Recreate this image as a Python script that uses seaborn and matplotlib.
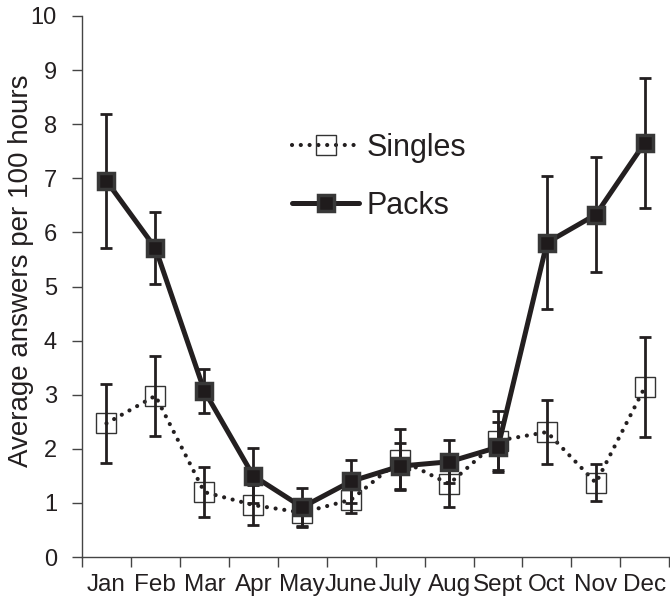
import matplotlib
matplotlib.use("Agg")
import matplotlib.pyplot as plt
import seaborn as sns
import pandas as pd
import numpy as np

months = ["Jan", "Feb", "Mar", "Apr", "May", "June", "July", "Aug", "Sept", "Oct", "Nov", "Dec"]
packs_mean = [6.95, 5.71, 3.07, 1.50, 0.92, 1.40, 1.68, 1.76, 2.03, 5.81, 6.33, 7.66]
packs_err = [1.23, 0.67, 0.40, 0.51, 0.36, 0.40, 0.42, 0.40, 0.46, 1.23, 1.06, 1.20]
singles_mean = [2.47, 2.98, 1.20, 0.96, 0.82, 1.06, 1.80, 1.35, 2.15, 2.31, 1.37, 3.14]
singles_err = [0.73, 0.74, 0.46, 0.37, 0.25, 0.25, 0.56, 0.43, 0.55, 0.59, 0.34, 0.93]
y_ticks = [0, 1, 2, 3, 4, 5, 6, 7, 8, 9, 10]

sns.set_style("ticks")
plt.rcParams['font.family'] = ['Liberation Sans', 'DejaVu Sans']

pos = np.arange(len(months))
df = pd.DataFrame({"pos": pos, "month": months, "Singles": singles_mean, "Packs": packs_mean})

fig = plt.figure(figsize=(6.7, 6.03), dpi=100)
ax = fig.add_axes([82/670, 1-557/603, 1-82/670-0.001, (557-16)/603])

ink = "#231f20"

sns.lineplot(data=df, x="pos", y="Singles", ax=ax, color=ink, linestyle=(0, (0.01, 2.1)),
             linewidth=3.0, dash_capstyle="round", marker="s", markersize=15,
             markerfacecolor="none", markeredgecolor="#333333", markeredgewidth=1.0,
             label="Singles", zorder=2)
ax.errorbar(pos, singles_mean, yerr=singles_err, fmt="none", ecolor=ink, elinewidth=2.0,
            capsize=4.2, capthick=2.0, zorder=3)
ax.errorbar(pos, packs_mean, yerr=packs_err, fmt="none", ecolor=ink, elinewidth=2.0,
            capsize=4.2, capthick=2.0, zorder=3)
sns.lineplot(data=df, x="pos", y="Packs", ax=ax, color=ink, linewidth=3.6,
             marker="s", markersize=11.5, markerfacecolor="#1f1b1c",
             markeredgecolor="#383838", markeredgewidth=2.5, label="Packs", zorder=4)

for l in ax.lines:
    l.set_solid_joinstyle("round")

ax.set_xlim(-0.5, 11.5)
ax.set_ylim(0, 10)
ax.set_yticks(y_ticks)
ax.set_xticks(pos)
ax.set_xticklabels(months)
ax.set_xticks(np.arange(-0.5, 12, 1), minor=True)
ax.tick_params(axis="x", which="major", length=0, pad=12, labelsize=17.5, colors="#231f20")
ax.tick_params(axis="x", which="minor", length=7, width=1, direction="out", color="#444444")
ax.tick_params(axis="y", length=7, width=1, direction="out", color="#444444", labelsize=17,
               pad=11, labelcolor="#231f20")
ax.set_xlabel("")
ax.set_ylabel("Average answers per 100 hours", fontsize=20, color="#231f20")
ax.yaxis.set_label_coords(-0.082, 0.53)
for s in ["top", "right"]:
    ax.spines[s].set_visible(False)
for s in ["left", "bottom"]:
    ax.spines[s].set_color("#444444")
    ax.spines[s].set_linewidth(1.0)

leg = ax.legend(loc="upper left", bbox_to_anchor=(292/670, 1-133/603), bbox_transform=fig.transFigure,
                frameon=False, fontsize=22, handlelength=2.2, labelspacing=0.92,
                handletextpad=0.25, borderaxespad=0, borderpad=0)
for t in leg.get_texts():
    t.set_color("#231f20")

fig.savefig("out.png", dpi=100)
